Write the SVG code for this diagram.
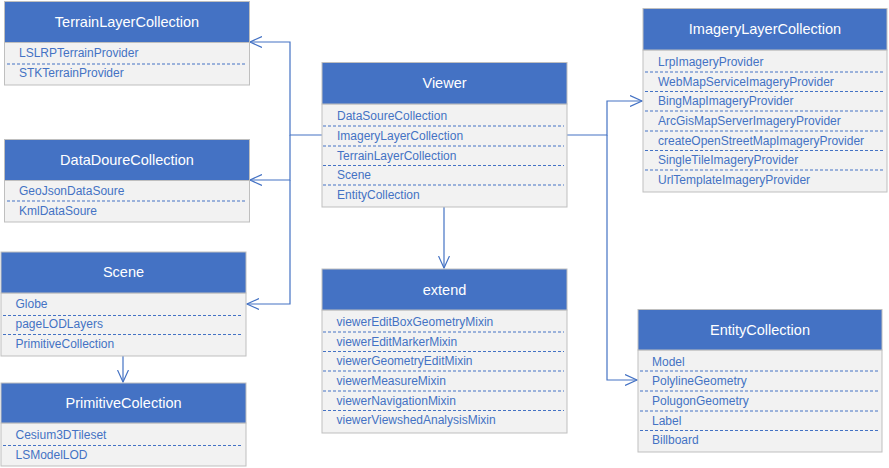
<svg xmlns="http://www.w3.org/2000/svg" width="889" height="468" viewBox="0 0 889 468">
<style>
.hd{fill:#4472C4;stroke:#BFBFBF;stroke-width:1}
.bd{fill:#F2F2F2;stroke:#BFBFBF;stroke-width:1}
.ht{font-family:"Liberation Sans",Arial,sans-serif;font-size:14.5px;fill:#FFFFFF;text-anchor:middle}
.it{font-family:"Liberation Sans",Arial,sans-serif;font-size:12px;fill:#4472C4}
.dl{stroke:#4472C4;stroke-width:1;stroke-dasharray:3,2}
.cn{fill:none;stroke:#4472C4;stroke-width:1.2}
</style>
<defs>
<marker id="ar" markerUnits="userSpaceOnUse" markerWidth="14" markerHeight="12" refX="12" refY="6" orient="auto">
<path d="M0,0.5 L12,6 L0,11.5" fill="none" stroke="#4472C4" stroke-width="1.2"/>
</marker>
</defs>
<g id="connectors">
<path class="cn" d="M322,135 H290 V42 H250" marker-end="url(#ar)"/>
<path class="cn" d="M290,135 V180 H250" marker-end="url(#ar)"/>
<path class="cn" d="M290,180 V304 H247" marker-end="url(#ar)"/>
<path class="cn" d="M567,135 H607 V101 H642" marker-end="url(#ar)"/>
<path class="cn" d="M607,135 V380 H637" marker-end="url(#ar)"/>
<path class="cn" d="M444,207 V268" marker-end="url(#ar)"/>
<path class="cn" d="M123,356 V382" marker-end="url(#ar)"/>
</g>
<g id="TerrainLayerCollection">
<rect class="bd" x="4.5" y="42" width="245" height="43"/>
<rect class="hd" x="4.5" y="1.5" width="245" height="41"/>
<text class="ht" x="127" y="26.5">TerrainLayerCollection</text>
<text class="it" x="19" y="57">LSLRPTerrainProvider</text>
<line class="dl" x1="7" y1="64" x2="247" y2="64"/>
<text class="it" x="19" y="77">STKTerrainProvider</text>
</g>
<g id="DataDoureCollection">
<rect class="bd" x="4.5" y="180" width="245" height="42"/>
<rect class="hd" x="4.5" y="139.5" width="245" height="41"/>
<text class="ht" x="127" y="164.5">DataDoureCollection</text>
<text class="it" x="19" y="194.5">GeoJsonDataSoure</text>
<line class="dl" x1="7" y1="201" x2="247" y2="201"/>
<text class="it" x="19" y="215">KmlDataSoure</text>
</g>
<g id="Scene">
<rect class="bd" x="1" y="293" width="245" height="63"/>
<rect class="hd" x="1" y="252" width="245" height="41"/>
<text class="ht" x="123.5" y="277">Scene</text>
<text class="it" x="15.5" y="308">Globe</text>
<line class="dl" x1="3" y1="315.5" x2="243" y2="315.5"/>
<text class="it" x="15.5" y="328">pageLODLayers</text>
<line class="dl" x1="3" y1="334.5" x2="243" y2="334.5"/>
<text class="it" x="15.5" y="348">PrimitiveCollection</text>
</g>
<g id="PrimitiveColection">
<rect class="bd" x="1" y="423" width="245" height="43"/>
<rect class="hd" x="1" y="383" width="245" height="40"/>
<text class="ht" x="123.5" y="408">PrimitiveColection</text>
<text class="it" x="15.5" y="439">Cesium3DTileset</text>
<line class="dl" x1="3" y1="445.5" x2="243" y2="445.5"/>
<text class="it" x="15.5" y="459">LSModelLOD</text>
</g>
<g id="Viewer">
<rect class="bd" x="322" y="104" width="245" height="103"/>
<rect class="hd" x="322" y="62.5" width="245" height="41.5"/>
<text class="ht" x="444.5" y="88">Viewer</text>
<text class="it" x="337" y="120">DataSoureCollection</text>
<line class="dl" x1="323" y1="126" x2="564" y2="126"/>
<text class="it" x="337" y="140">ImageryLayerCollection</text>
<line class="dl" x1="323" y1="146" x2="564" y2="146"/>
<text class="it" x="337" y="159.5">TerrainLayerCollection</text>
<line class="dl" x1="323" y1="165.5" x2="564" y2="165.5"/>
<text class="it" x="337" y="179">Scene</text>
<line class="dl" x1="323" y1="185" x2="564" y2="185"/>
<text class="it" x="337" y="199">EntityCollection</text>
</g>
<g id="extend">
<rect class="bd" x="322" y="310" width="245" height="123"/>
<rect class="hd" x="322" y="269" width="245" height="41"/>
<text class="ht" x="444.5" y="294.5">extend</text>
<text class="it" x="336.5" y="326">viewerEditBoxGeometryMixin</text>
<line class="dl" x1="323" y1="332" x2="564" y2="332"/>
<text class="it" x="336.5" y="345.5">viewerEditMarkerMixin</text>
<line class="dl" x1="323" y1="351.5" x2="564" y2="351.5"/>
<text class="it" x="336.5" y="365">viewerGeometryEditMixin</text>
<line class="dl" x1="323" y1="371" x2="564" y2="371"/>
<text class="it" x="336.5" y="385">viewerMeasureMixin</text>
<line class="dl" x1="323" y1="391" x2="564" y2="391"/>
<text class="it" x="336.5" y="404.5">viewerNavigationMixin</text>
<line class="dl" x1="323" y1="410.5" x2="564" y2="410.5"/>
<text class="it" x="336.5" y="424">viewerViewshedAnalysisMixin</text>
</g>
<g id="ImageryLayerCollection">
<rect class="bd" x="643" y="50" width="244" height="142"/>
<rect class="hd" x="643" y="8.5" width="244" height="41.5"/>
<text class="ht" x="765" y="34">ImageryLayerCollection</text>
<text class="it" x="658" y="66">LrpImageryProvider</text>
<line class="dl" x1="645" y1="72" x2="885" y2="72"/>
<text class="it" x="658" y="85.5">WebMapServiceImageryProvider</text>
<line class="dl" x1="645" y1="91.5" x2="885" y2="91.5"/>
<text class="it" x="658" y="105">BingMapImageryProvider</text>
<line class="dl" x1="645" y1="111" x2="885" y2="111"/>
<text class="it" x="658" y="125">ArcGisMapServerImageryProvider</text>
<line class="dl" x1="645" y1="131" x2="885" y2="131"/>
<text class="it" x="658" y="144.5">createOpenStreetMapImageryProvider</text>
<line class="dl" x1="645" y1="150.5" x2="885" y2="150.5"/>
<text class="it" x="658" y="164">SingleTileImageryProvider</text>
<line class="dl" x1="645" y1="170" x2="885" y2="170"/>
<text class="it" x="658" y="184">UrlTemplateImageryProvider</text>
</g>
<g id="EntityCollection">
<rect class="bd" x="638" y="350" width="244" height="102"/>
<rect class="hd" x="638" y="309.5" width="244" height="40.5"/>
<text class="ht" x="760" y="334.5">EntityCollection</text>
<text class="it" x="652" y="365.5">Model</text>
<line class="dl" x1="640" y1="371" x2="880" y2="371"/>
<text class="it" x="652" y="385">PolylineGeometry</text>
<line class="dl" x1="640" y1="391" x2="880" y2="391"/>
<text class="it" x="652" y="405">PolugonGeometry</text>
<line class="dl" x1="640" y1="411" x2="880" y2="411"/>
<text class="it" x="652" y="424.5">Label</text>
<line class="dl" x1="640" y1="430.5" x2="880" y2="430.5"/>
<text class="it" x="652" y="444">Billboard</text>
</g>
</svg>
